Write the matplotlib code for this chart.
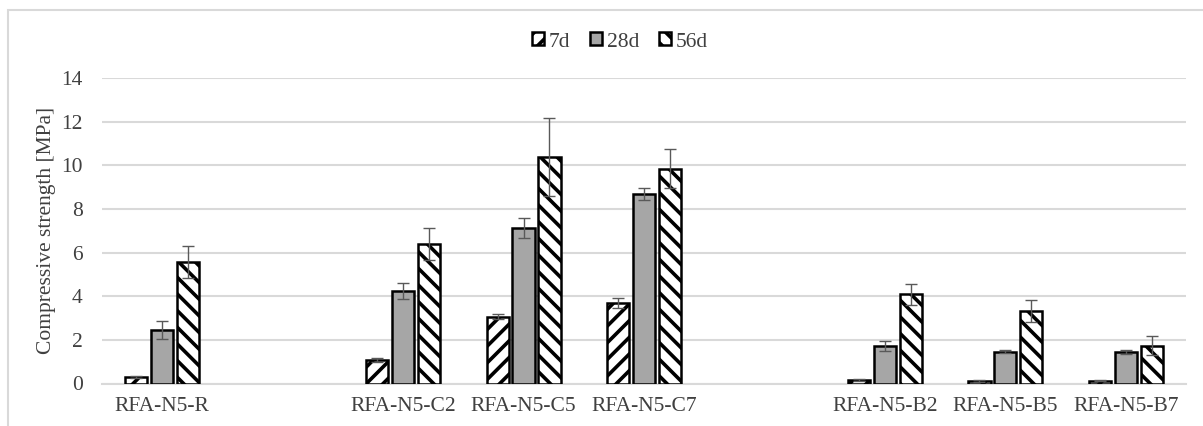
import numpy as np
import matplotlib

matplotlib.use("Agg")
import matplotlib.pyplot as plt
from matplotlib.patches import Rectangle

categories = ["RFA-N5-R", "", "RFA-N5-C2", "RFA-N5-C5", "RFA-N5-C7", "", "RFA-N5-B2", "RFA-N5-B5", "RFA-N5-B7"]
series = ["7d", "28d", "56d"]
vals_7d = [0.28, np.nan, 1.07, 3.07, 3.69, np.nan, 0.15, 0.12, 0.13]
err_7d = [0.05, np.nan, 0.08, 0.10, 0.23, np.nan, 0.04, 0.03, 0.03]
vals_28d = [2.46, np.nan, 4.23, 7.13, 8.68, np.nan, 1.71, 1.45, 1.44]
err_28d = [0.42, np.nan, 0.37, 0.44, 0.28, np.nan, 0.24, 0.07, 0.08]
vals_56d = [5.57, np.nan, 6.39, 10.37, 9.85, np.nan, 4.08, 3.33, 1.74]
err_56d = [0.72, np.nan, 0.72, 1.78, 0.90, np.nan, 0.46, 0.50, 0.42]

plt.rcParams["font.family"] = ["Liberation Serif", "DejaVu Serif"]
plt.rcParams["hatch.linewidth"] = 2.6

fig = plt.figure(figsize=(12.03, 4.26), dpi=100)
ax = fig.add_axes([102 / 1203, 1 - 383.5 / 426, (1186 - 102) / 1203, (383.5 - 78) / 426])

# light frame around the whole chart like the Excel export
fig.patches.append(Rectangle((8 / 1203, -0.1), 1.2, 1.1 - 10 / 426, transform=fig.transFigure,
                             fill=False, edgecolor="#d9d9d9", linewidth=1.5))

x = np.arange(len(categories))
width = 0.185
step = 0.215
styles = [
    dict(facecolor="white", hatch="//"),
    dict(facecolor="#a6a6a6", hatch=None),
    dict(facecolor="white", hatch="\\\\"),
]
data = [(vals_7d, err_7d), (vals_28d, err_28d), (vals_56d, err_56d)]
for i, (name, (vals, errs), st) in enumerate(zip(series, data, styles)):
    ax.bar(x + (i - 1) * step, vals, width, yerr=errs, label=name, edgecolor="black", linewidth=1.8,
           error_kw=dict(ecolor="#595959", elinewidth=1.0, capsize=4, capthick=1.0), zorder=3, **st)

fs = 15.5
ax.set_xlim(-0.5, len(categories) - 0.5)
ax.set_ylim(0, 14)
ax.set_yticks(range(0, 15, 2))
ax.set_xticks(x, categories)
ax.tick_params(length=0, labelsize=fs, colors="#404040")
ax.tick_params(axis="y", pad=14)
ax.tick_params(axis="x", pad=10)
ax.grid(axis="y", color="#d9d9d9", linewidth=1.5, zorder=0)
for side in ("top", "right", "left"):
    ax.spines[side].set_visible(False)
ax.spines["bottom"].set_color("#d9d9d9")
ax.spines["bottom"].set_linewidth(1.5)
ax.set_ylabel("Compressive strength [MPa]", fontsize=fs, color="#404040", labelpad=4)

fig.legend(*ax.get_legend_handles_labels(), loc="center", bbox_to_anchor=(620 / 1203, 1 - 42 / 426),
           ncol=3, frameon=False, fontsize=fs, handlelength=0.55, handleheight=0.55,
           handletextpad=0.25, columnspacing=0.9, labelcolor="#404040")

fig.savefig("out.png", dpi=100, facecolor="white")
